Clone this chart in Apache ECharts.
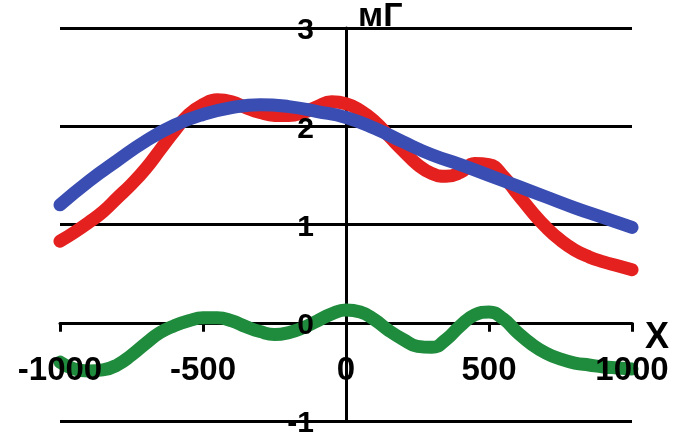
<!DOCTYPE html>
<html>
<head>
<meta charset="utf-8">
<script src="https://cdn.jsdelivr.net/npm/echarts@6/dist/echarts.min.js"></script>
<style>html,body{margin:0;padding:0;background:#fff;}#c{width:675px;height:437px;}</style>
</head>
<body>
<div id="c"></div>
<script>
var xs50 = [-1000,-950,-900,-850,-800,-750,-700,-650,-600,-550,-500,-450,-400,-350,-300,-250,-200,-150,-100,-50,0,50,100,150,200,250,300,350,400,450,500,550,600,650,700,750,800,850,900,950,1000];
var redY = [0.83,0.92,1.02,1.13,1.27,1.41,1.57,1.76,1.95,2.12,2.22,2.27,2.25,2.19,2.14,2.11,2.11,2.14,2.20,2.25,2.23,2.16,2.05,1.90,1.75,1.61,1.52,1.49,1.53,1.62,1.61,1.49,1.31,1.13,0.97,0.84,0.74,0.67,0.62,0.58,0.54];
var greenY = [-0.40,-0.47,-0.49,-0.48,-0.43,-0.33,-0.21,-0.10,-0.03,0.02,0.05,0.05,0.02,-0.04,-0.09,-0.12,-0.10,-0.05,0.02,0.09,0.13,0.11,0.03,-0.08,-0.17,-0.24,-0.25,-0.17,-0.03,0.08,0.11,0.04,-0.10,-0.22,-0.31,-0.37,-0.41,-0.43,-0.45,-0.46,-0.47];
var blueX = [-1000,-900,-800,-700,-600,-500,-400,-300,-200,-100,0,100,200,300,400,500,600,700,800,900,1000];
var blueY = [1.20,1.44,1.65,1.85,2.01,2.12,2.19,2.22,2.20,2.15,2.09,1.98,1.84,1.71,1.61,1.50,1.39,1.28,1.17,1.07,0.97];
var xTicks = [-1000,-500,0,500,1000];
var yTicks = [-1,0,1,2,3];
var yName = 'мГ';
var xName = 'X';

function pairs(xs, ys){ return xs.map(function(x,i){ return [x, ys[i]]; }); }
var FONT = '"Liberation Sans", Arial, sans-serif';
var GRID = {left: 60, right: 43, top: 28, bottom: 16};
var W = 675, H = 437;
var chart = echarts.init(document.getElementById('c'));
var option = {
  animation: false,
  grid: {left: GRID.left, right: GRID.right, top: GRID.top, bottom: GRID.bottom, containLabel: false, outerBoundsMode: 'none'},
  xAxis: [
    {type:'value', min:xTicks[0], max:xTicks[xTicks.length-1], interval:500, z:0, position:'bottom',
     axisLine:{show:true, onZero:true, onZeroAxisIndex:0, lineStyle:{color:'#000', width:3}},
     axisTick:{show:true, length:9, lineStyle:{color:'#000', width:3}},
     axisLabel:{show:false}, splitLine:{show:false},
     name: xName, nameLocation:'end', nameGap:13,
     nameTextStyle:{fontFamily:FONT, fontWeight:'bold', fontSize:36, color:'#000', verticalAlign:'top', lineHeight:30}},
    {type:'value', min:xTicks[0], max:xTicks[xTicks.length-1], interval:500, z:10, position:'bottom', offset:0,
     axisLine:{show:false, onZero:false}, axisTick:{show:false}, splitLine:{show:false},
     axisLabel:{show:true, margin:32, fontFamily:FONT, fontWeight:'bold', fontSize:33, color:'#000',
       formatter:function(v){ return String(v); }}}
  ],
  yAxis: [
    {type:'value', min:yTicks[0], max:yTicks[yTicks.length-1], interval:1, z:0, position:'left',
     axisLine:{show:true, onZero:true, onZeroAxisIndex:0, lineStyle:{color:'#000', width:3}},
     axisTick:{show:false}, axisLabel:{show:false},
     splitLine:{show:true, lineStyle:{color:'#000', width:3}},
     name: yName, nameLocation:'end', nameGap:-6,
     nameTextStyle:{fontFamily:FONT, fontWeight:'bold', fontSize:34, color:'#000', align:'left', padding:[0,0,0,12]}},
    {type:'value', min:yTicks[0], max:yTicks[yTicks.length-1], interval:1, z:10, position:'left', offset:0,
     axisLine:{show:false, onZero:false}, axisTick:{show:false}, splitLine:{show:false},
     axisLabel:{show:true, margin:32, fontFamily:FONT, fontWeight:'bold', fontSize:30, color:'#000',
       verticalAlign:'top', lineHeight:6,
       formatter:function(v){ return String(v); }}}
  ],
  series: [
    {type:'line', data:pairs(xs50, redY), smooth:0.5, showSymbol:false, xAxisIndex:0, yAxisIndex:0, z:2,
     lineStyle:{color:'#e4211f', width:13, cap:'round'}},
    {type:'line', data:pairs(blueX, blueY), smooth:0.5, showSymbol:false, xAxisIndex:0, yAxisIndex:0, z:3,
     lineStyle:{color:'#3a4db3', width:13, cap:'round'}},
    {type:'line', data:pairs(xs50, greenY), smooth:0.5, showSymbol:false, xAxisIndex:0, yAxisIndex:0, z:2,
     lineStyle:{color:'#1f8b3c', width:13, cap:'round'}}
  ]
};
chart.setOption(option);
// place the label-only axes on the zero lines of the main axes
var origin = chart.convertToPixel({xAxisIndex:0, yAxisIndex:0}, [0, 0]);
chart.setOption({
  xAxis: [{}, {offset: origin[1] - (H - GRID.bottom)}],
  yAxis: [{}, {offset: GRID.left - origin[0]}]
});
</script>
</body>
</html>
